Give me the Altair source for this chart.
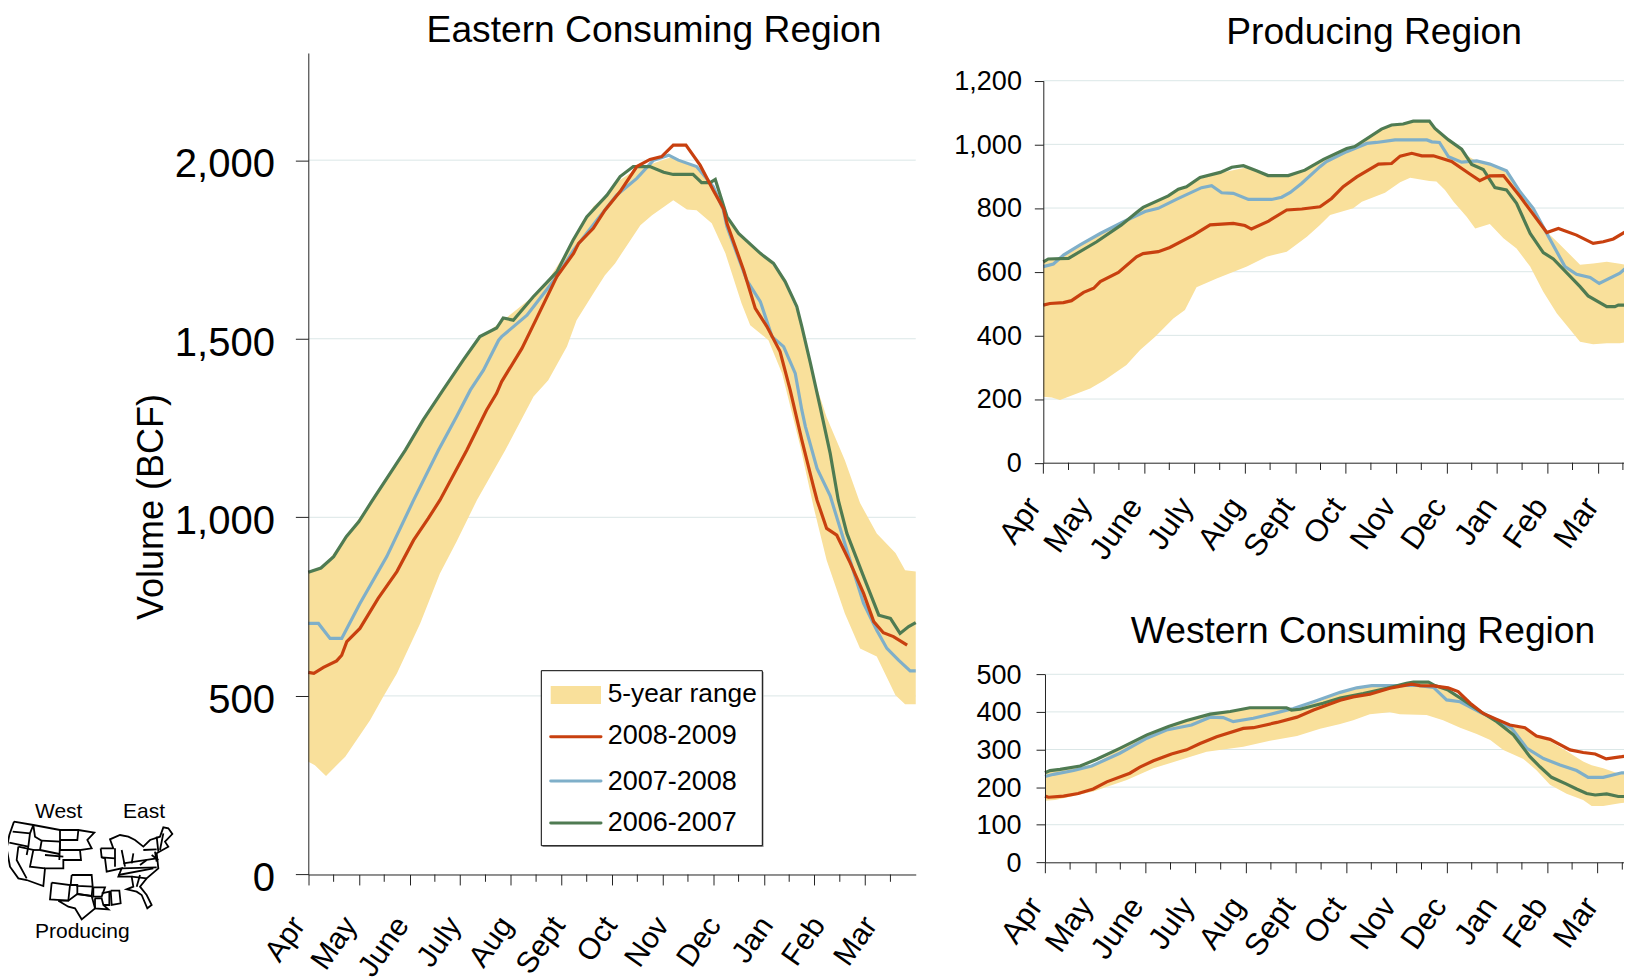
import altair as alt
import pandas as pd

FONT = "Liberation Sans"
MONTHS = ["Apr", "May", "June", "July", "Aug", "Sept", "Oct", "Nov", "Dec", "Jan", "Feb", "Mar"]
C_BAND, C_RED, C_BLUE, C_GREEN = "#F9E09B", "#C8400F", "#7FAFC9", "#4F7B52"
C_GRID, C_AXIS = "#DBE7E7", "#222222"

# ---------- Eastern Consuming Region ----------
E_BAND_M = [0, .13, .35, .73, 1.22, 1.48, 1.75, 2.21, 2.6, 2.93, 3.33, 3.89, 4.45, 4.74, 5.11, 5.3, 5.63, 5.86, 6.06, 6.56, 6.79, 7.21, 7.48, 7.67, 7.97, 8.24, 8.56, 8.73, 9.09, 9.36, 9.72, 9.98, 10.24, 10.6, 10.9, 11.23, 11.6, 11.79, 12]
E_BAND_LO = [316, 306, 276, 330, 432, 498, 563, 703, 843, 932, 1048, 1188, 1338, 1384, 1478, 1552, 1627, 1678, 1711, 1818, 1846, 1888, 1862, 1860, 1823, 1739, 1599, 1538, 1496, 1403, 1198, 1030, 880, 731, 633, 610, 502, 477, 477]
E_BAND_HI = [846, 852, 870, 942, 1040, 1090, 1150, 1258, 1345, 1415, 1496, 1556, 1620, 1665, 1745, 1795, 1870, 1898, 1935, 1982, 1990, 2010, 1990, 1982, 1930, 1850, 1788, 1765, 1722, 1672, 1555, 1392, 1280, 1160, 1040, 955, 900, 852, 848]
E_GREEN_M = [0, .25, .5, .75, 1, 1.25, 1.92, 2.27, 2.66, 3.06, 3.39, 3.72, 3.85, 4.05, 4.44, 4.91, 5.23, 5.5, 5.9, 6.16, 6.42, 6.75, 7.02, 7.21, 7.6, 7.77, 7.94, 8.04, 8.27, 8.5, 8.93, 9.19, 9.42, 9.65, 9.75, 9.92, 10.11, 10.31, 10.47, 10.64, 10.97, 11.27, 11.5, 11.69, 11.86, 12]
E_GREEN_V = [846, 858, 890, 946, 988, 1044, 1189, 1273, 1356, 1440, 1506, 1530, 1558, 1552, 1617, 1687, 1776, 1841, 1902, 1954, 1982, 1982, 1966, 1960, 1960, 1937, 1937, 1946, 1842, 1795, 1739, 1711, 1660, 1590, 1534, 1431, 1310, 1179, 1048, 955, 834, 726, 717, 675, 694, 705]
E_BLUE_M = [0, .2, .43, .66, 1.02, 1.55, 2.08, 2.57, 2.93, 3.2, 3.46, 3.76, 3.82, 4.32, 4.91, 5.24, 5.7, 6.09, 6.49, 6.82, 7.12, 7.31, 7.67, 8, 8.2, 8.27, 8.66, 8.93, 9.16, 9.39, 9.62, 9.75, 9.82, 10.05, 10.31, 10.64, 10.97, 11.23, 11.43, 11.66, 11.89, 12]
E_BLUE_V = [703, 703, 661, 661, 759, 890, 1048, 1188, 1282, 1356, 1412, 1496, 1506, 1566, 1674, 1748, 1832, 1902, 1949, 2000, 2014, 2000, 1982, 1926, 1860, 1814, 1664, 1604, 1506, 1478, 1403, 1300, 1254, 1137, 1060, 908, 759, 684, 633, 600, 570, 570]
E_RED_M = [0, .11, .3, .56, .66, .76, 1.02, 1.38, 1.75, 2.08, 2.37, 2.6, 3.13, 3.52, 3.72, 3.82, 4.22, 4.51, 4.91, 5.24, 5.34, 5.63, 5.86, 6.16, 6.49, 6.75, 6.98, 7.21, 7.46, 7.74, 8, 8.2, 8.27, 8.6, 8.83, 9.06, 9.32, 9.52, 9.75, 9.98, 10.05, 10.24, 10.44, 10.71, 10.97, 11.17, 11.36, 11.56, 11.83]
E_RED_V = [566, 563, 580, 598, 614, 652, 689, 773, 848, 936, 997, 1048, 1188, 1300, 1347, 1380, 1473, 1557, 1674, 1739, 1767, 1809, 1860, 1912, 1982, 2002, 2010, 2042, 2042, 1986, 1916, 1865, 1823, 1692, 1585, 1534, 1464, 1356, 1216, 1086, 1048, 969, 950, 871, 787, 708, 677, 666, 642]

# ---------- Producing Region ----------
P_BAND_M = [0, .17, .33, .93, 1.22, 1.65, 1.92, 2.22, 2.58, 2.81, 3.04, 3.44, 4.04, 4.43, 4.83, 5.23, 5.49, 5.69, 6.15, 6.32, 6.78, 7.08, 7.28, 7.66, 7.8, 7.97, 8.14, 8.4, 8.57, 8.86, 9.13, 9.39, 9.66, 9.92, 10.19, 10.65, 10.91, 11.18, 11.44, 11.68, 12]
P_BAND_LO = [207, 205, 197, 233, 260, 307, 354, 396, 453, 480, 551, 579, 616, 647, 663, 710, 747, 778, 799, 820, 848, 881, 895, 885, 883, 857, 820, 773, 736, 750, 705, 673, 616, 537, 469, 380, 372, 375, 375, 382, 385]
P_BAND_HI = [631, 640, 645, 700, 729, 763, 795, 820, 850, 866, 888, 908, 928, 903, 902, 922, 948, 965, 992, 1010, 1052, 1063, 1072, 1073, 1048, 1022, 1003, 965, 950, 938, 920, 868, 815, 735, 695, 622, 626, 631, 625, 617, 620]
P_GREEN_M = [0, .1, .5, 1.06, 1.55, 1.85, 1.98, 2.48, 2.68, 2.84, 3.11, 3.51, 3.74, 3.97, 4.23, 4.46, 4.86, 5.19, 5.56, 6.02, 6.18, 6.71, 6.91, 7.14, 7.34, 7.66, 7.77, 8.04, 8.3, 8.5, 8.73, 8.96, 9.19, 9.39, 9.66, 9.92, 10.12, 10.65, 10.81, 11.18, 11.34, 11.41, 11.68]
P_GREEN_V = [631, 640, 642, 694, 747, 786, 802, 838, 859, 867, 896, 912, 928, 933, 917, 902, 902, 919, 953, 987, 993, 1048, 1061, 1064, 1073, 1073, 1050, 1014, 985, 937, 921, 864, 857, 815, 720, 660, 640, 553, 524, 490, 490, 495, 495]
P_BLUE_M = [0, .2, .4, .73, 1.13, 1.59, 2.02, 2.28, 2.65, 3.14, 3.34, 3.54, 3.77, 4.07, 4.53, 4.73, 4.9, 5.13, 5.49, 5.62, 6.02, 6.42, 6.61, 6.98, 7.61, 7.71, 7.86, 8.04, 8.3, 8.6, 8.86, 9.19, 9.46, 9.72, 9.99, 10.35, 10.58, 10.85, 11.03, 11.44, 11.68]
P_BLUE_V = [616, 624, 652, 684, 720, 757, 789, 799, 828, 864, 870, 848, 846, 827, 827, 834, 849, 878, 930, 946, 977, 1003, 1006, 1014, 1014, 1008, 1006, 961, 944, 948, 938, 917, 851, 799, 720, 616, 592, 582, 563, 595, 629]
P_RED_M = [0, .13, .4, .56, .8, 1, 1.13, 1.49, 1.85, 1.98, 2.28, 2.51, 2.98, 3.31, 3.77, 4, 4.13, 4.47, 4.83, 5.13, 5.49, 5.72, 5.95, 6.22, 6.65, 6.91, 7.08, 7.31, 7.51, 7.74, 8.1, 8.47, 8.66, 8.86, 9.13, 9.46, 9.99, 10.22, 10.58, 10.91, 11.11, 11.31, 11.61]
P_RED_V = [495, 500, 503, 509, 535, 548, 569, 598, 647, 657, 663, 676, 715, 747, 752, 745, 734, 759, 794, 797, 804, 830, 867, 898, 938, 940, 963, 972, 964, 964, 946, 906, 886, 901, 902, 836, 723, 736, 715, 689, 694, 703, 731]

# ---------- Western Consuming Region ----------
W_BAND_M = [0, .2, .57, .96, 1.63, 2.16, 2.69, 3.22, 3.95, 4.48, 5.02, 5.48, 5.88, 6.14, 6.47, 6.87, 7.07, 7.6, 7.93, 8.27, 8.6, 8.87, 9.13, 9.53, 9.79, 10.06, 10.39, 10.72, 10.89, 11.12, 11.45, 11.69, 12]
W_BAND_LO = [164, 166, 176, 188, 219, 250, 272, 294, 307, 323, 336, 355, 368, 378, 394, 399, 394, 392, 378, 358, 341, 325, 299, 275, 245, 206, 182, 166, 150, 150, 157, 161, 163]
W_BAND_HI = [238, 244, 252, 260, 312, 347, 372, 391, 409, 411, 410, 428, 452, 462, 470, 470, 472, 478, 460, 440, 408, 386, 368, 355, 338, 322, 296, 268, 258, 250, 235, 232, 232]
W_GREEN_M = [0, .1, .3, .7, 1.03, 1.49, 2.03, 2.46, 2.82, 3.29, 3.69, 4.08, 4.81, 4.91, 5.08, 5.54, 5.88, 6.34, 6.81, 7.2, 7.34, 7.64, 7.77, 8.03, 8.33, 8.67, 9, 9.33, 9.66, 9.86, 10.09, 10.39, 10.59, 10.79, 10.96, 11.19, 11.42, 11.69]
W_GREEN_V = [238, 244, 247, 256, 274, 303, 339, 361, 377, 394, 401, 411, 411, 405, 407, 423, 437, 449, 463, 476, 479, 479, 470, 458, 432, 401, 374, 339, 281, 254, 226, 208, 195, 183, 179, 182, 175, 175]
W_BLUE_M = [0, .17, .57, .93, 1.49, 2.03, 2.42, 2.92, 3.29, 3.55, 3.75, 4.15, 4.62, 4.95, 5.35, 5.88, 6.21, 6.51, 7.04, 7.37, 7.74, 8, 8.27, 8.67, 9, 9.3, 9.6, 9.93, 10.26, 10.59, 10.82, 11.12, 11.49, 11.69]
W_BLUE_V = [228, 234, 244, 256, 290, 330, 352, 365, 386, 385, 374, 383, 398, 409, 427, 452, 464, 470, 470, 471, 465, 432, 427, 399, 378, 356, 303, 276, 259, 244, 226, 226, 238, 238]
W_RED_M = [0, .07, .37, .66, .96, 1.23, 1.69, 1.89, 2.16, 2.52, 2.82, 3.09, 3.42, 3.95, 4.15, 4.62, 5.02, 5.35, 5.88, 6.14, 6.47, 6.87, 7.3, 7.47, 7.74, 8.03, 8.23, 8.47, 8.73, 9, 9.26, 9.56, 9.79, 10.06, 10.46, 10.72, 10.96, 11.18, 11.49, 11.62]
W_RED_V = [176, 173, 176, 183, 195, 214, 237, 253, 270, 288, 299, 316, 334, 356, 358, 372, 386, 405, 431, 440, 447, 463, 474, 470, 469, 464, 454, 423, 396, 380, 365, 358, 336, 327, 299, 292, 288, 275, 281, 284]

# ---------- inset map outlines ----------
MAP_LINES = [
    [(42,125),(100,135),(180,150),(235,150),(283,158),(262,180),(275,205),(240,210),(243,240),(190,240),(190,265),(135,265),(130,318),(80,300),(55,295),(30,260),(20,205),(28,165),(42,125)],
    [(28,188),(85,200)], [(38,155),(90,160)], [(100,135),(90,160),(85,200),(80,225)],
    [(100,135),(105,170),(125,182),(120,210)], [(120,210),(178,222)], [(125,182),(180,185),(178,240)],
    [(180,150),(180,210),(240,210)], [(235,150),(232,180),(180,180)], [(55,200),(50,240),(80,295)],
    [(55,200),(100,210),(90,260),(135,265)], [(100,210),(120,210)], [(135,225),(190,230)],
    [(302,205),(340,205),(330,178),(360,165),(385,170),(405,180),(430,200),(450,180),(480,170),(490,142),(505,145),(517,162),(495,185),(505,200),(470,220),(475,265),(440,295),(420,320),(440,345),(455,375),(442,385),(425,345),(410,335),(380,328),(400,320),(395,290),(355,290),(365,265),(320,275),(315,235),(305,232),(302,205)],
    [(305,232),(345,235)], [(345,205),(345,260)], [(365,210),(375,260)], [(370,250),(470,235)], [(365,265),(470,262)],
    [(355,285),(460,265)], [(395,290),(440,295)], [(420,285),(410,320)], [(430,210),(470,208)], [(440,240),(420,255)],
    [(400,220),(395,250)], [(470,170),(475,215)], [(490,160),(480,210)], [(465,215),(470,245)], [(455,225),(475,240)],
    [(155,308),(210,315),(205,362),(150,358),(155,308)],
    [(215,285),(275,285),(278,320),(232,318),(232,315),(212,315),(215,285)],
    [(232,318),(232,342),(275,348),(278,320)],
    [(280,322),(315,322),(305,350),(280,350),(280,322)],
    [(285,355),(305,355),(310,375),(325,388),(285,385),(285,355)],
    [(305,340),(328,335),(328,375),(310,375)],
    [(332,332),(358,332),(362,370),(335,375),(332,332)],
    [(175,362),(205,362),(232,342),(275,348),(285,385),(245,418),(225,385),(205,380),(175,362)],
]
MAP_LABELS = [("West", 35, 818), ("East", 123, 818), ("Producing", 35, 938)]

LEG_LINES = [("2008-2009", C_RED, 736.7, 744), ("2007-2008", C_BLUE, 781, 790), ("2006-2007", C_GREEN, 823, 830.7)]

# The page fits a 1624-wide canvas into 1616px and centres it vertically, so page positions are mapped back to canvas units.
W_V, H_V = 1624, 969
K = W_V / 1616.0
Y0 = 8 + H_V * (1 - 1 / K) / 2


def PX(x):
    return (x - 8) * K


def PY(y):
    return (y - Y0) * K


def tbl(m, v):
    return pd.DataFrame({"m": m, "v": v})


def panel(band_m, lo, hi, lines, left, base, mlen, ytop, ymax, yticks, title, tx, ty, lab_size, tick_y, pad_y, lab_pad,
          off_expr, y_off, x_font):
    x0, x1 = PX(left), PX(left + 12 * mlen)
    xs = alt.Scale(domain=[0, 12], range=[x0, x1], nice=False, zero=False)
    ys = alt.Scale(domain=[0, ymax], range=[PY(base), PY(ytop)], nice=False, zero=False)
    x_axis = alt.Axis(orient="bottom", offset=PY(base) - H_V, values=list(range(12)),
                      labelExpr="%s[datum.value]" % str(MONTHS), labelAngle=305, labelAlign="right",
                      labelBaseline="middle", labelFontSize=x_font * K, labelFont=FONT, labelColor="black",
                      labelPadding=lab_pad, labelOffset=alt.expr(off_expr), labelOverlap=False, labelBound=False,
                      labelFlush=False, tickSize=10.5, tickColor=C_AXIS, domainColor=C_AXIS, grid=False, title=None,
                      zindex=1)
    y_axis = alt.Axis(orient="left", offset=-x0, values=yticks, format=",d", labelFontSize=lab_size * K,
                      labelFont=FONT, labelColor="black", labelPadding=pad_y, labelOffset=y_off, labelOverlap=False,
                      labelBound=False, tickSize=tick_y, tickColor=C_AXIS, domainColor=C_AXIS, grid=False, title=None,
                      zindex=1)
    xe = alt.X("m:Q", scale=xs, axis=x_axis)
    ye = alt.Y("v:Q", scale=ys, axis=y_axis)

    grid = alt.Chart(pd.DataFrame({"v": yticks[1:]})).mark_rule(color=C_GRID, strokeWidth=1).encode(
        y=ye, x=alt.value(x0), x2=alt.value(min(x1, W_V)))
    band = alt.Chart(pd.DataFrame({"m": band_m, "v": lo, "v2": hi})).mark_area(color=C_BAND, opacity=1).encode(
        x=xe, y=ye, y2="v2:Q")
    minor = alt.Chart(pd.DataFrame({"m": [i + .5 for i in range(12)]})).mark_rule(color=C_AXIS, strokeWidth=1).encode(
        x=xe, y=alt.value(PY(base)), y2=alt.value(PY(base + 7.3)))
    marks = [grid, band, minor]
    for (m, v), col in lines:
        marks.append(alt.Chart(tbl(m, v)).mark_line(color=col, strokeWidth=3.2).encode(x=xe, y=ye))
    head = alt.Chart(pd.DataFrame({"k": [0]})).mark_text(
        text=title, font=FONT, fontSize=37.2 * K, align="center", baseline="alphabetic", color="black").encode(
        x=alt.value(PX(tx)), y=alt.value(PY(ty)))
    marks.append(head)
    return alt.layer(*marks)


east = panel(E_BAND_M, E_BAND_LO, E_BAND_HI,
             [((E_BLUE_M, E_BLUE_V), C_BLUE), ((E_GREEN_M, E_GREEN_V), C_GREEN), ((E_RED_M, E_RED_V), C_RED)],
             308.3, 874.5, 50.62, 53, 2300, [0, 500, 1000, 1500, 2000], "Eastern Consuming Region", 654, 41.5,
             40, 13, 21, 35, "datum.value*1.39-10", 4.5, 30)
prod = panel(P_BAND_M, P_BAND_LO, P_BAND_HI,
             [((P_BLUE_M, P_BLUE_V), C_BLUE), ((P_GREEN_M, P_GREEN_V), C_GREEN), ((P_RED_M, P_RED_V), C_RED)],
             1043.3, 462.7, 50.4, 80.7, 1200, [0, 200, 400, 600, 800, 1000, 1200], "Producing Region", 1374, 44,
             27, 9, 13, 28, "datum.value*.3-9", 1, 31)
west = panel(W_BAND_M, W_BAND_LO, W_BAND_HI,
             [((W_BLUE_M, W_BLUE_V), C_BLUE), ((W_GREEN_M, W_GREEN_V), C_GREEN), ((W_RED_M, W_RED_V), C_RED)],
             1045, 862.3, 50.2, 674.3, 500, [0, 100, 200, 300, 400, 500], "Western Consuming Region", 1363, 643,
             27, 9, 15, 28, "datum.value*.3-9", 1, 31)

one = pd.DataFrame({"k": [0]})


def lab(text, x, y, size, align="left", **kw):
    return alt.Chart(one).mark_text(text=text, font=FONT, fontSize=size * K, baseline="alphabetic", align=align,
                                    color="black", **kw).encode(x=alt.value(PX(x)), y=alt.value(PY(y)))


def box(x, x2, y, y2, **kw):
    return alt.Chart(one).mark_rect(**kw).encode(x=alt.value(PX(x)), x2=alt.value(PX(x2)),
                                                 y=alt.value(PY(y)), y2=alt.value(PY(y2)))


ylabel = lab("Volume (BCF)", 163, 507, 36, align="center", angle=270)

leg = [
    box(542.6, 763.6, 672, 847, color="#999999"),
    box(541.3, 762.3, 670.7, 845.7, fill="white", stroke="black", strokeWidth=1),
    box(550.7, 601, 686, 704, color=C_BAND),
    lab("5-year range", 607.7, 702, 26.3),
]
for name, col, ly, ty in LEG_LINES:
    leg.append(alt.Chart(one).mark_rule(color=col, strokeWidth=3, strokeCap="round").encode(
        x=alt.value(PX(550.7)), x2=alt.value(PX(601)), y=alt.value(PY(ly))))
    leg.append(lab(name, 607.7, ty, 27))

map_rows = [{"id": i, "o": j, "a": p[0], "b": p[1]} for i, seg in enumerate(MAP_LINES) for j, p in enumerate(seg)]
map_x = alt.Scale(domain=[0, 960], range=[PX(0), PX(320)], nice=False, zero=False)
map_y = alt.Scale(domain=[0, 591], range=[PY(780), PY(977)], nice=False, zero=False)
map_lines = alt.Chart(pd.DataFrame(map_rows)).mark_line(color="black", strokeWidth=1.8).encode(
    x=alt.X("a:Q", scale=map_x, axis=None), y=alt.Y("b:Q", scale=map_y, axis=None),
    detail="id:N", order="o:Q")
map_text = [lab(t, x, y, 21) for t, x, y in MAP_LABELS]

chart = alt.layer(east, prod, west, map_lines, ylabel, *map_text, *leg).resolve_scale(
    x="independent", y="independent"
).properties(
    width=W_V, height=H_V, padding=0, background="white",
    autosize=alt.AutoSizeParams(type="none", contains="padding"),
).configure_view(stroke=None, strokeWidth=0)

chart.save("out.html", embed_options={"renderer": "svg", "actions": False})
